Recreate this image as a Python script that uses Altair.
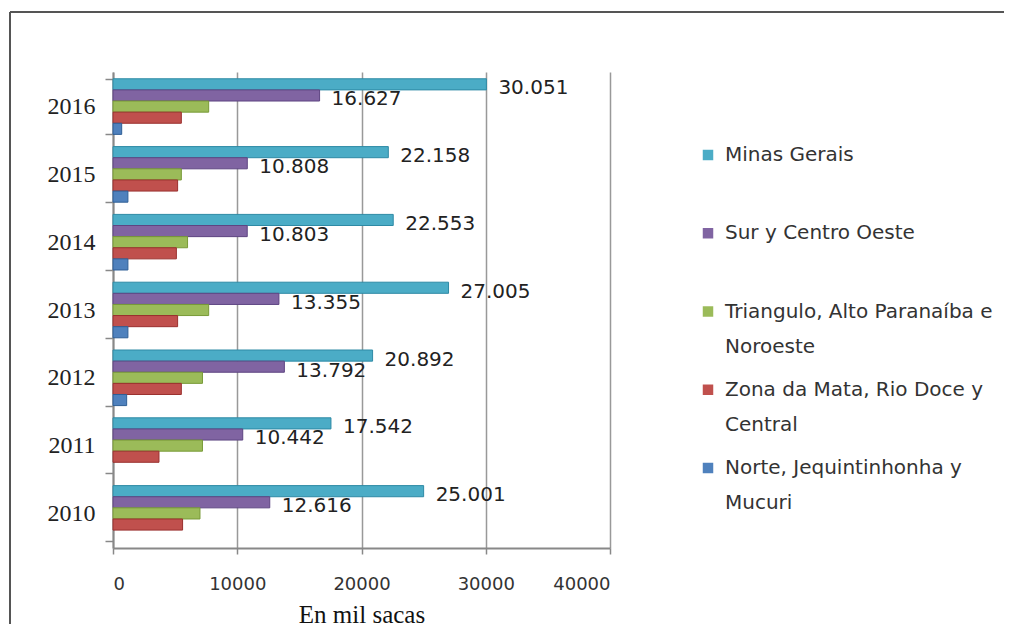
import altair as alt
import pandas as pd

years = ["2016", "2015", "2014", "2013", "2012", "2011", "2010"]
series = [
    "Minas Gerais",
    "Sur y Centro Oeste",
    "Triangulo, Alto Paranaíba e Noroeste",
    "Zona da Mata, Rio Doce y Central",
    "Norte, Jequintinhonha y Mucuri",
]
legend_text = [
    "Minas Gerais",
    "Sur y Centro Oeste",
    "Triangulo, Alto Paranaíba e|Noroeste",
    "Zona da Mata, Rio Doce y|Central",
    "Norte, Jequintinhonha y|Mucuri",
]
colors = ["#4BACC6", "#8064A2", "#9BBB59", "#C0504D", "#4F81BD"]
edge_colors = ["#2E8AA5", "#5E4582", "#789A37", "#9A302E", "#2F5F96"]

minas = [30051, 22158, 22553, 27005, 20892, 17542, 25001]
sur = [16627, 10808, 10803, 13355, 13792, 10442, 12616]
triangulo = [7700, 5500, 6000, 7700, 7200, 7200, 7000]
zona = [5500, 5200, 5100, 5200, 5500, 3700, 5600]
norte = [700, 1200, 1200, 1200, 1100, 0, 0]
labelled = ["Minas Gerais", "Sur y Centro Oeste"]
x_ticks = [0, 10000, 20000, 30000, 40000]

rows = []
for i, yr in enumerate(years):
    for s, vals in zip(series, [minas, sur, triangulo, zona, norte]):
        rows.append({"year": yr, "series": s, "value": vals[i],
                     "label": f"{vals[i]:,}".replace(",", ".")})
df = pd.DataFrame(rows)
leg_df = pd.DataFrame({"series": series, "text": legend_text})

color_scale = alt.Scale(domain=series, range=colors)
stroke_scale = alt.Scale(domain=series, range=edge_colors)

x_enc = alt.X(
    "value:Q",
    scale=alt.Scale(domain=[0, 40000], nice=False),
    axis=alt.Axis(
        values=x_ticks, format="d", title="En mil sacas",
        titleFont="Liberation Serif", titleFontSize=25, titleFontWeight="normal",
        titleColor="#111", titlePadding=9,
        labelFont="DejaVu Sans", labelFontSize=18, labelColor="#333",
        labelPadding=21, tickSize=6, tickColor="#888", tickWidth=1.5,
        gridColor="#999", gridWidth=1.5, domainColor="#888", domainWidth=2,
    ),
)
y_enc = alt.Y(
    "year:N", sort=years,
    scale=alt.Scale(domain=years, paddingInner=0.18, paddingOuter=0.1),
    axis=alt.Axis(
        title=None, labelFont="Liberation Serif", labelFontSize=24,
        labelColor="#222", labelPadding=10, tickSize=8, tickColor="#888",
        tickWidth=1.5, tickBand="extent", domainColor="#888", domainWidth=2,
        grid=False,
    ),
)
yoff = alt.YOffset("series:N", sort=series,
                   scale=alt.Scale(domain=series, paddingInner=0, paddingOuter=0))

bars = alt.Chart(df).transform_filter("datum.value > 0").mark_bar(strokeWidth=1).encode(
    x=x_enc, y=y_enc, yOffset=yoff,
    color=alt.Color("series:N", scale=color_scale, legend=None),
    stroke=alt.Stroke("series:N", scale=stroke_scale, legend=None),
)
labels = alt.Chart(df).transform_filter(
    alt.FieldOneOfPredicate(field="series", oneOf=labelled)
).mark_text(
    align="left", baseline="middle", dx=12, dy=4,
    font="DejaVu Sans", fontSize=20, color="#222",
).encode(
    x=alt.X("value:Q"), y=alt.Y("year:N", sort=years), yOffset=yoff,
    text="label:N",
)
main = alt.layer(bars, labels)

leg_y = alt.Y("series:N", sort=series,
              scale=alt.Scale(type="point", domain=series, range=[83, 396],
                              padding=0),
              axis=None)
leg_sq = alt.Chart(leg_df).mark_square(size=110, opacity=1).encode(
    x=alt.value(595), y=leg_y,
    color=alt.Color("series:N", scale=color_scale, legend=None),
)
leg_tx = alt.Chart(leg_df).mark_text(
    align="left", baseline="middle", lineBreak="|", lineHeight=35,
    font="DejaVu Sans", fontSize=20, color="#333",
).encode(x=alt.value(612), y=leg_y, text="text:N")
legend = alt.layer(leg_sq, leg_tx)

frame_df = pd.DataFrame({"k": [0]})
frame_top = alt.Chart(frame_df).mark_rule(color="#555", strokeWidth=2).encode(
    x=alt.value(-103), x2=alt.value(900), y=alt.value(-60))
frame_left = alt.Chart(frame_df).mark_rule(color="#555", strokeWidth=2).encode(
    x=alt.value(-103), y=alt.value(-60), y2=alt.value(552))

chart = alt.layer(main, legend, frame_top, frame_left).resolve_scale(
    y="independent"
).properties(
    width=497, height=476,
    padding={"left": 105, "top": 64, "right": 394, "bottom": 82},
    autosize=alt.AutoSizeParams(type="none"),
    background="white",
).configure_view(stroke=None)

chart.save("out.html", embed_options={"renderer": "svg", "actions": False})
